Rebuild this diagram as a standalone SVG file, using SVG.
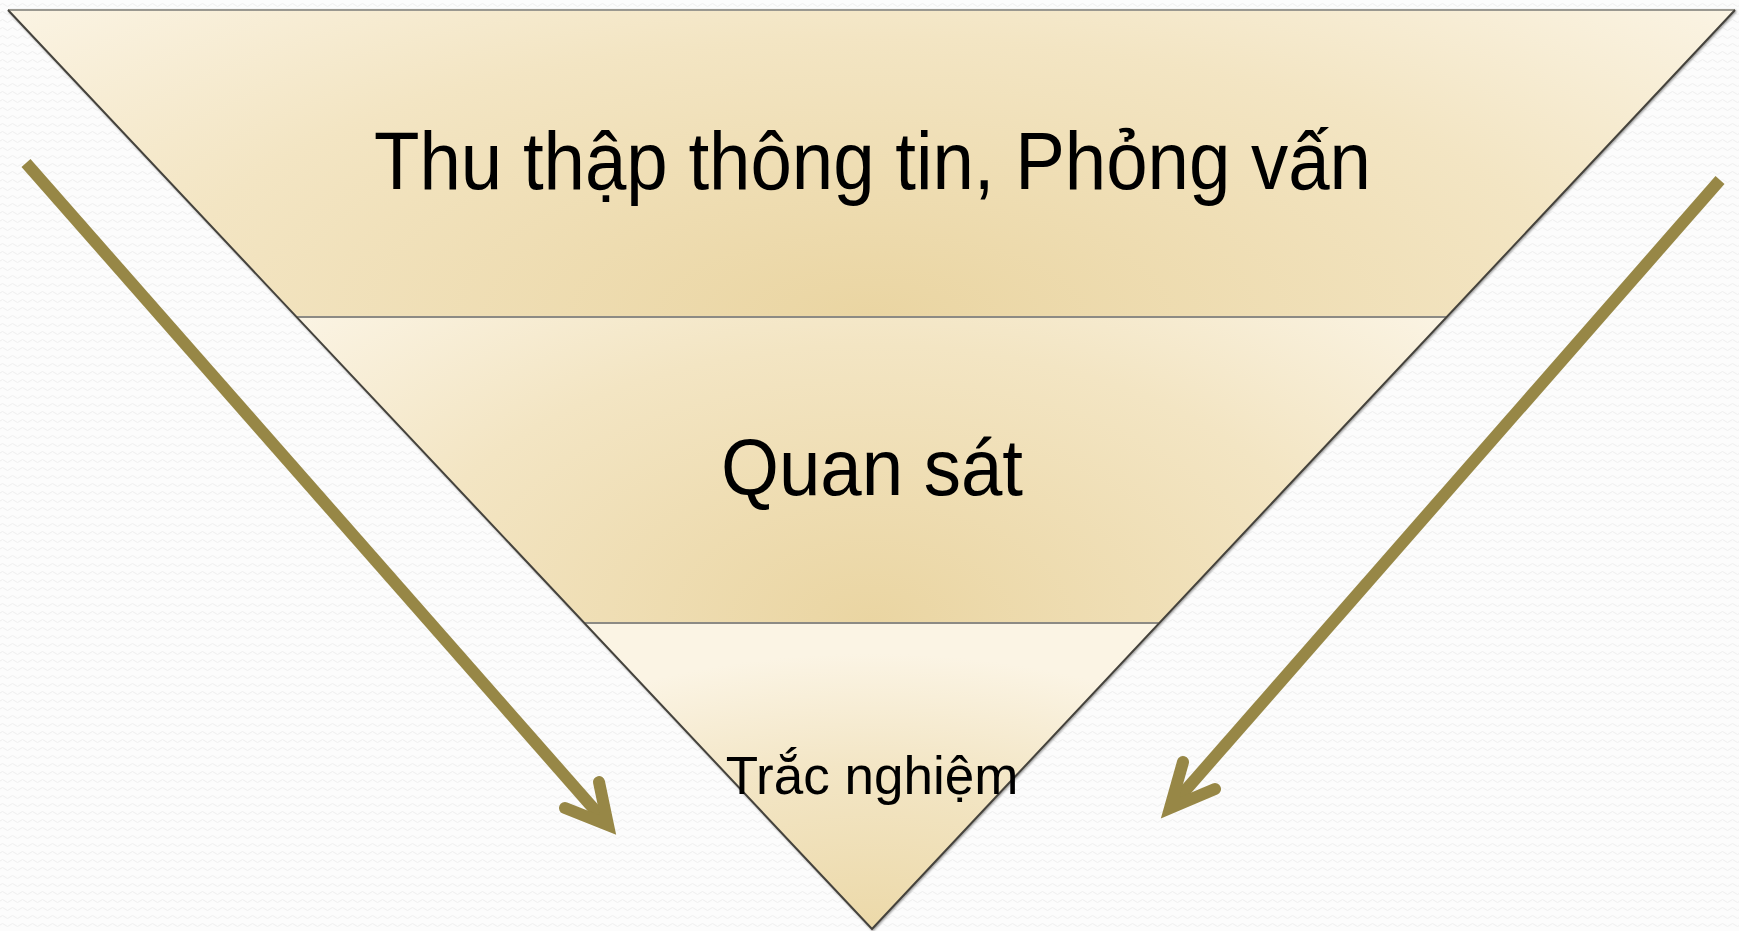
<svg xmlns="http://www.w3.org/2000/svg" width="1739" height="931" viewBox="0 0 1739 931">
<defs>
<pattern id="bgp" width="10" height="8" patternUnits="userSpaceOnUse">
<rect width="10" height="8" fill="#fcfcfc"/>
<path d="M0 5 Q2.5 2 5 5 T10 5" fill="none" stroke="#efefef" stroke-width="1"/>
</pattern>
<radialGradient id="g1" cx="0.5" cy="1" r="0.75" gradientUnits="objectBoundingBox" gradientTransform="translate(0.5 1) scale(1 2.2) translate(-0.5 -1)">
<stop offset="0" stop-color="#ead5a2"/>
<stop offset="0.55" stop-color="#f3e5c3"/>
<stop offset="1" stop-color="#fdf8ed"/>
</radialGradient>
<radialGradient id="g3" cx="0.5" cy="1" r="0.9" gradientUnits="objectBoundingBox">
<stop offset="0" stop-color="#ecd9a9"/>
<stop offset="0.6" stop-color="#f3e6c6"/>
<stop offset="1" stop-color="#fbf4e4"/>
</radialGradient>
<filter id="sh" x="-5%" y="-5%" width="110%" height="110%">
<feDropShadow dx="1" dy="1" stdDeviation="1" flood-color="#000" flood-opacity="0.4"/>
</filter>
</defs>
<style>
.lbl{font-family:"Liberation Sans",Arial,sans-serif;fill:#000;text-anchor:middle}
.sep{stroke:#8c8a84;stroke-width:2;fill:none}
.edge{stroke:#45433c;stroke-width:2;fill:none}
.arr{stroke:#978746;stroke-width:12;fill:none}
.head{stroke:#978746;stroke-width:12;fill:none;stroke-linecap:round;stroke-linejoin:miter;stroke-miterlimit:10}
</style>
<rect width="1739" height="931" fill="url(#bgp)"/>
<g filter="url(#sh)">
<g id="band-top">
<polygon points="8,10 1735,10 1446.7,317 296.6,317" fill="url(#g1)"/>
<text class="lbl" x="872.5" y="189" font-size="81" textLength="997" lengthAdjust="spacingAndGlyphs">Thu thập thông tin, Phỏng vấn</text>
</g>
<g id="band-middle">
<polygon points="296.6,317 1446.7,317 1158.7,623 584,623" fill="url(#g1)"/>
<text class="lbl" x="872" y="495" font-size="80" textLength="302" lengthAdjust="spacingAndGlyphs">Quan sát</text>
</g>
<g id="band-bottom">
<polygon points="584,623 1158.7,623 872,929" fill="url(#g3)"/>
</g>
<line x1="8" y1="10" x2="1735" y2="10" stroke="#9a9890" stroke-width="2"/>
<line class="sep" x1="296.6" y1="317" x2="1446.7" y2="317"/>
<line class="sep" x1="584" y1="623" x2="1158.7" y2="623"/>
<polyline class="edge" points="8,10 872,929 1735,10"/>
</g>
<text class="lbl" x="872" y="794" font-size="53">Trắc nghiệm</text>
<g id="connectors">
<line class="arr" x1="26" y1="163" x2="608" y2="825"/>
<polyline class="head" points="599,782 608,825 565,808"/>
<line class="arr" x1="1720" y1="180" x2="1170" y2="808"/>
<polyline class="head" points="1183,762 1170,808 1215,789"/>
</g>
</svg>
